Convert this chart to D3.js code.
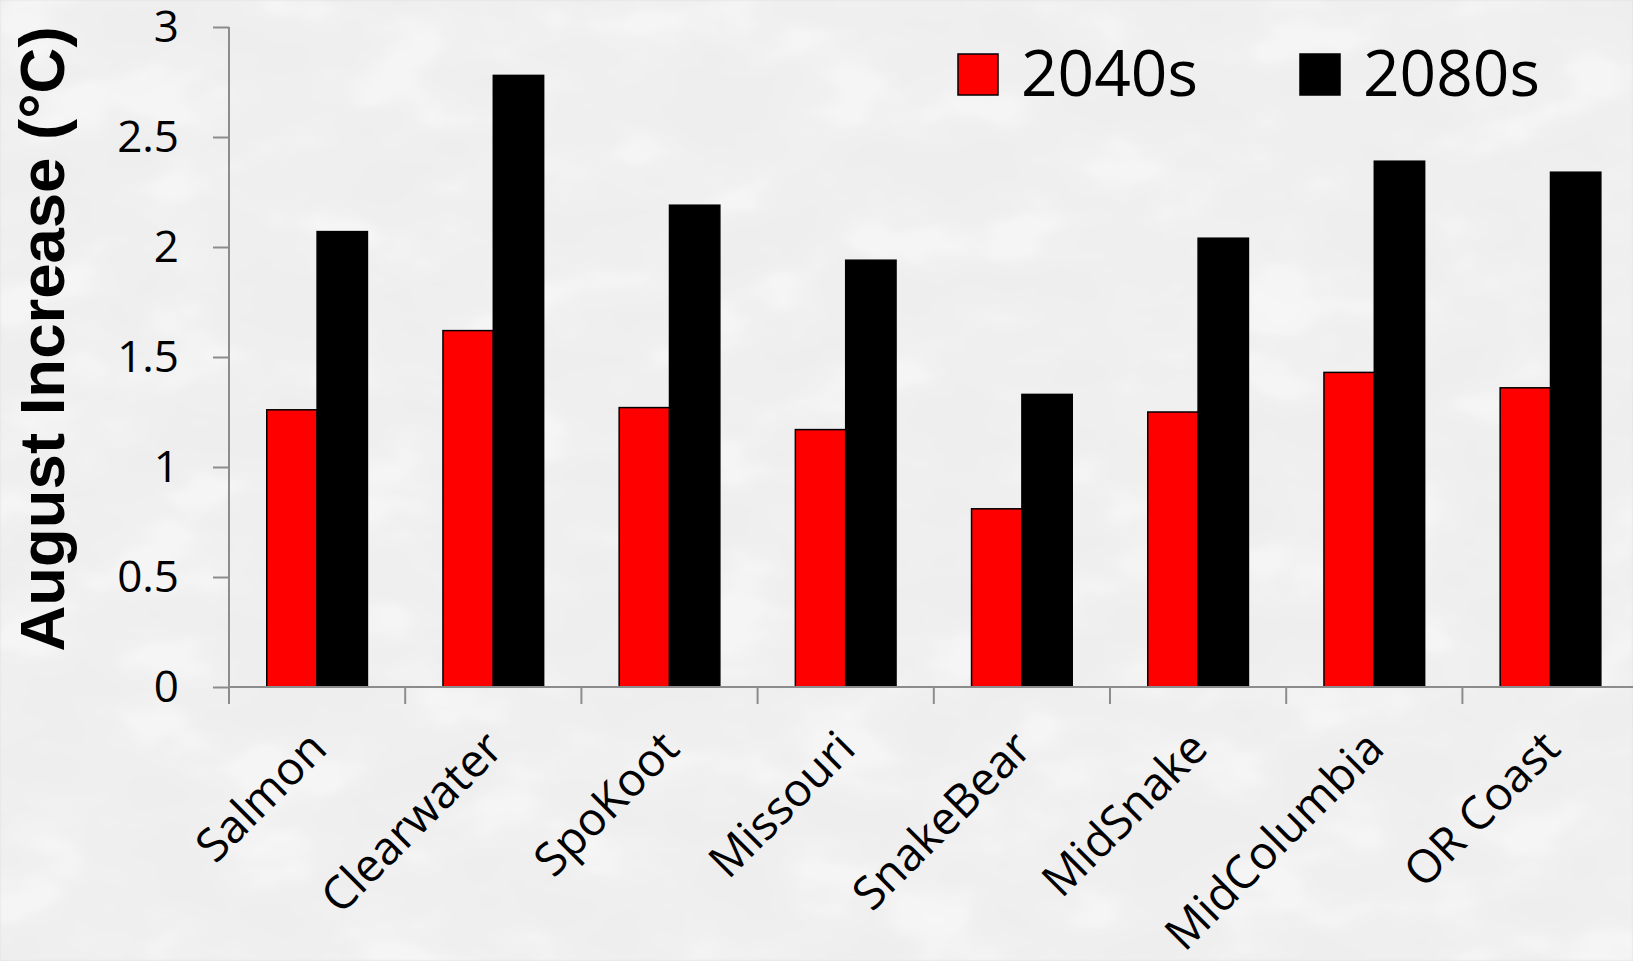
<!DOCTYPE html>
<html>
<head>
<meta charset="utf-8">
<script src="https://cdn.jsdelivr.net/npm/d3@7"></script>
<style>
  html, body { margin: 0; padding: 0; background: #dcdcdc; }
  svg { display: block; }
</style>
</head>
<body>
<svg id="chart" width="1633" height="961"></svg>
<script>
// Projected August stream temperature increase by basin
const basins = ["Salmon", "Clearwater", "SpoKoot", "Missouri", "SnakeBear", "MidSnake", "MidColumbia", "OR Coast"];
const periods = ["2040s", "2080s"];
const increase2040s = [1.26, 1.62, 1.27, 1.17, 0.81, 1.25, 1.43, 1.36];
const increase2080s = [2.07, 2.78, 2.19, 1.94, 1.33, 2.04, 2.39, 2.34];
const yTicks = [0, 0.5, 1, 1.5, 2, 2.5, 3];
const periodColors = ["#ff0000", "#000000"];

const W = 1633, H = 961;
const margin = { left: 229, top: 27, bottom: 274 };
const plotBottom = H - margin.bottom;

const svg = d3.select("#chart");

// Pebble-like stone texture for the backdrop
const defs = svg.append("defs");
const tex = defs.append("filter").attr("id", "stones")
  .attr("x", 0).attr("y", 0).attr("width", "100%").attr("height", "100%");
tex.append("feTurbulence").attr("type", "fractalNoise")
  .attr("baseFrequency", "0.009 0.015").attr("numOctaves", 3).attr("seed", 11).attr("result", "noise");
tex.append("feColorMatrix").attr("in", "noise").attr("type", "matrix")
  .attr("values", "1 0 0 0 0  1 0 0 0 0  1 0 0 0 0  0 0 0 0 1").attr("result", "gray");
tex.append("feComponentTransfer").attr("in", "gray").attr("result", "patches")
  .call(ct => {
    ["feFuncR", "feFuncG", "feFuncB"].forEach(f =>
      ct.append(f).attr("type", "table").attr("tableValues", "0.85 0.855 0.86 0.865 0.875 0.91 0.918 0.922"));
  });
tex.append("feGaussianBlur").attr("in", "patches").attr("stdDeviation", 1.2);
svg.append("rect").attr("width", W).attr("height", H).attr("fill", "#dcdcdc");
svg.append("rect").attr("width", W).attr("height", H).attr("filter", "url(#stones)");

const table = basins.map((b, i) => ({ basin: b, values: [increase2040s[i], increase2080s[i]] }));

const x0 = d3.scaleBand().domain(basins).range([margin.left, margin.left + 8 * 176.2]).padding(0);
const x1 = d3.scaleBand().domain(periods).range([0, x0.bandwidth()]).paddingInner(0).paddingOuter(0.75);
const y = d3.scaleLinear().domain([0, 3]).range([plotBottom, margin.top]);

// Bars
const groups = svg.append("g").selectAll("g").data(table).join("g")
  .attr("transform", d => `translate(${x0(d.basin)},0)`);
groups.selectAll("rect").data(d => d.values.map((v, k) => ({ period: periods[k], value: v, k })))
  .join("rect")
  .attr("x", d => x1(d.period))
  .attr("y", d => y(d.value))
  .attr("width", x1.bandwidth())
  .attr("height", d => y(0) - y(d.value))
  .attr("fill", d => periodColors[d.k])
  .attr("stroke", "#000")
  .attr("stroke-width", 1.5);

// Y axis
const yAxis = svg.append("g").attr("transform", `translate(${margin.left},0)`)
  .call(d3.axisLeft(y).tickValues(yTicks).tickFormat(d3.format("")).tickSize(16).tickPadding(34));
yAxis.select(".domain").attr("stroke", "#8c8c8c").attr("stroke-width", 2).attr("d", `M0,${margin.top}V${plotBottom}`);
yAxis.selectAll(".tick line").attr("stroke", "#8c8c8c").attr("stroke-width", 2);
yAxis.selectAll(".tick text").attr("font-family", "'Open Sans', sans-serif").attr("font-size", 44)
  .attr("fill", "#000").attr("dy", "0.34em");

// X axis
const xAxis = svg.append("g").attr("transform", `translate(0,${plotBottom})`)
  .call(d3.axisBottom(x0).tickSize(0).tickFormat(""));
xAxis.select(".domain").attr("stroke", "#8c8c8c").attr("stroke-width", 2)
  .attr("d", `M${margin.left},0H${W}`);
// category separators
svg.append("g").selectAll("line").data(basins).join("line")
  .attr("x1", d => x0(d)).attr("x2", d => x0(d))
  .attr("y1", plotBottom).attr("y2", plotBottom + 17)
  .attr("stroke", "#8c8c8c").attr("stroke-width", 2);

// Category labels, slanted
svg.append("g").selectAll("text").data(basins).join("text")
  .attr("transform", d => `translate(${x0(d) + x0.bandwidth() / 2 + 12},${plotBottom + 64}) rotate(-45)`)
  .attr("text-anchor", "end")
  .attr("font-family", "'Open Sans', sans-serif")
  .attr("font-size", 46)
  .attr("fill", "#000")
  .text(d => d);

// Y axis title
svg.append("text")
  .attr("transform", `translate(64,339) rotate(-90)`)
  .attr("text-anchor", "middle")
  .attr("font-family", "'Liberation Sans', Arial, sans-serif")
  .attr("font-weight", "bold")
  .attr("font-size", 63.5)
  .attr("fill", "#000")
  .text("August Increase (°C)");

// Legend
const legendX = [958, 1300];
const legend = svg.append("g").selectAll("g").data(periods).join("g")
  .attr("transform", (d, i) => `translate(${legendX[i]},54)`);
legend.append("rect").attr("width", 40).attr("height", 41)
  .attr("fill", (d, i) => periodColors[i]).attr("stroke", "#000").attr("stroke-width", 1.5);
legend.append("text").attr("x", 63).attr("y", 42)
  .attr("font-family", "'Open Sans', sans-serif").attr("font-size", 64).attr("fill", "#000")
  .text(d => d);
</script>
</body>
</html>
